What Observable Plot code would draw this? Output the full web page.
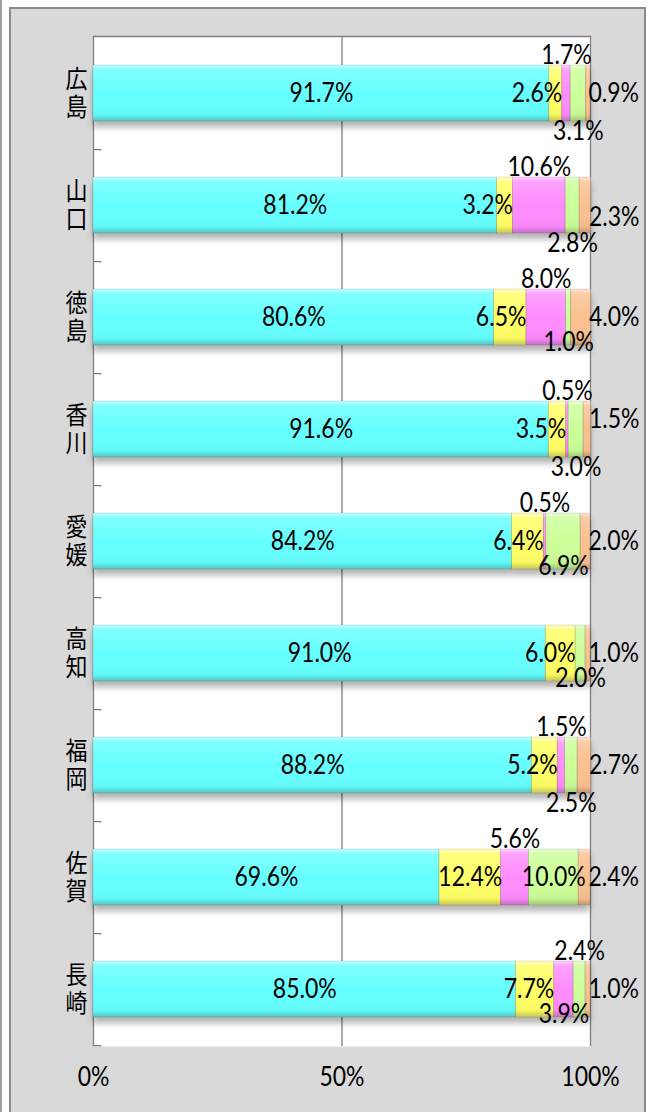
<!DOCTYPE html>
<html><head><meta charset="utf-8">
<script src="https://cdn.jsdelivr.net/npm/d3@7"></script>
<script src="https://cdn.jsdelivr.net/npm/@observablehq/plot@0.6"></script>
<style>
html,body{margin:0;padding:0;background:#fff;width:649px;height:1112px;overflow:hidden;}
#edge{position:absolute;left:0;top:0;width:2px;height:1112px;background:#a0a0a0;}
#panel{position:absolute;left:9px;top:7px;width:637px;height:1140px;background:#d9d9d9;border:2px solid #8a8a8a;box-sizing:border-box;}
#chart{position:absolute;left:0;top:0;}
</style></head><body>
<div id="edge"></div><div id="panel"></div>
<svg width="0" height="0" style="position:absolute"><defs>
<linearGradient id="bevel" x1="0" y1="0" x2="0" y2="1">
 <stop offset="0" stop-color="#fff" stop-opacity="0.6"/>
 <stop offset="0.09" stop-color="#fff" stop-opacity="0.18"/>
 <stop offset="0.5" stop-color="#fff" stop-opacity="0"/>
 <stop offset="0.88" stop-color="#000" stop-opacity="0.03"/>
 <stop offset="1" stop-color="#000" stop-opacity="0.22"/>
</linearGradient>
<filter id="shadow" x="-5%" y="-5%" width="110%" height="115%">
 <feDropShadow dx="0" dy="6" stdDeviation="3" flood-color="#000" flood-opacity="0.3"/>
</filter>
</defs></svg>
<div id="chart"></div>
<script>
const prefectures = ["広島","山口","徳島","香川","愛媛","高知","福岡","佐賀","長崎"];
const seriesKeys = ["s1","s2","s3","s4","s5"];
const seriesColors = ["#66FFFF","#FFFF66","#FF8CFF","#CCFF99","#FAC090"];
const s1 = [91.7,81.2,80.6,91.6,84.2,91.0,88.2,69.6,85.0];
const s2 = [2.6,3.2,6.5,3.5,6.4,6.0,5.2,12.4,7.7];
const s3 = [1.7,10.6,8.0,0.5,0.5,0,1.5,5.6,3.9];
const s4 = [3.1,2.8,1.0,3.0,6.9,2.0,2.5,10.0,2.4];
const s5 = [0.9,2.3,4.0,1.5,2.0,1.0,2.7,2.4,1.0];
// label placement keywords per prefecture, one per series
const labelPlacement = [
  ["c","e","t","b","r"],
  ["c","e","t","b","rd"],
  ["c","e","t","m","r"],
  ["c","e","t","b","ru"],
  ["c","e","t","m","r"],
  ["c","e","-","m","r"],
  ["c","e","t","b","r"],
  ["c","c","t","c","r"],
  ["c","e","m","t","r"]
];
const xTicks = [0,50,100];

const seriesValues = [s1,s2,s3,s4,s5];
const rows = [];
prefectures.forEach((p,i) => seriesKeys.forEach((k,j) => {
  rows.push({pref:p, series:k, value:seriesValues[j][i], place:labelPlacement[i][j]});
}));

const W=649,H=1112,mL=93,mR=59,mT=36,mB=66;
const step = (H-mT-mB)/prefectures.length;
const numFont = "Lato, 'Open Sans', sans-serif";
const lab = p => d => d.place === p ? d.value.toFixed(1)+"%" : null;
const so = {x:"value", y:"pref"};
const fs = 23;

const chart = Plot.plot({
  width: W, height: H, marginLeft: mL, marginRight: mR, marginTop: mT, marginBottom: mB,
  style: {background: "transparent", fontFamily: numFont, color: "#000", overflow: "visible"},
  x: {domain: [0,100], axis: null},
  y: {domain: prefectures, paddingInner: 0.5, paddingOuter: 0.25, axis: null},
  color: {domain: seriesKeys, range: seriesColors},
  marks: [
    Plot.frame({fill: "white", stroke: null}),
    Plot.ruleX(xTicks, {stroke: "#7f7f7f", strokeWidth: 1.3}),
    Plot.frame({anchor: "top", stroke: "#7f7f7f", strokeWidth: 1.3}),
    Plot.ruleY(prefectures, {y: d => d, x1: 0, x2: 1.7, dy: step/2, stroke: "#7f7f7f", strokeWidth: 1.3}),
    Plot.barX(rows, Plot.stackX({...so, fill: "series"})),
    Plot.barX(rows, Plot.stackX({...so, fill: "url(#bevel)", stroke: "rgba(0,0,0,0.13)", strokeWidth: 0.8})),
    Plot.text(rows, Plot.stackX({...so, text: lab("c"), fontSize: fs, fill: "#000"})),
    Plot.text(rows, Plot.stackX({...so, text: lab("t"), dy: -38, fontSize: fs, fill: "#000"})),
    Plot.text(rows, Plot.stackX({...so, text: lab("b"), dy: 38, fontSize: fs, fill: "#000"})),
    Plot.text(rows, Plot.stackX({...so, text: lab("m"), dy: 25, fontSize: fs, fill: "#000"})),
    Plot.text(rows, Plot.stackX2({...so, text: lab("e"), textAnchor: "end", fontSize: fs, fill: "#000"})),
    Plot.text(rows, Plot.stackX2({...so, text: lab("r"), textAnchor: "start", dx: -2, fontSize: fs, fill: "#000"})),
    Plot.text(rows, Plot.stackX2({...so, text: lab("ru"), textAnchor: "start", dx: -2, dy: -10, fontSize: fs, fill: "#000"})),
    Plot.text(rows, Plot.stackX2({...so, text: lab("rd"), textAnchor: "start", dx: -2, dy: 12, fontSize: fs, fill: "#000"})),
    Plot.text(xTicks, {x: d => d, frameAnchor: "bottom", dy: 39, text: d => d + "%", fontSize: fs, fill: "#000"}),
    Plot.text(prefectures, {y: d => d, frameAnchor: "left", dx: -17, textAnchor: "middle",
      text: d => d, fontSize: 22, fill: "#000",
      fontFamily: "'Noto Sans CJK JP', sans-serif"})
  ]
});
document.getElementById("chart").appendChild(chart);

// shadow under the coloured bars
const barGroup = chart.querySelector('g[aria-label="bar"]');
if (barGroup) barGroup.setAttribute("filter", "url(#shadow)");

// prefecture names written vertically (top to bottom), as in the original
const textGroups = chart.querySelectorAll('g[aria-label="text"]');
const prefGroup = textGroups[textGroups.length - 1];
prefGroup.querySelectorAll("text").forEach(t => {
  t.removeAttribute("y");
  t.removeAttribute("dy");
  t.setAttribute("writing-mode", "vertical-rl");
  t.style.writingMode = "vertical-rl";
  t.style.textOrientation = "upright";
  t.style.letterSpacing = "2px";
});

// vertically stretched lettering, as in the original
const sy = 1.16;
const num = v => (v && /^-?[\d.]+$/.test(v)) ? parseFloat(v) : 0;
chart.querySelectorAll("text").forEach(t => {
  const T = t.getAttribute("transform") || "";
  const x = num(t.getAttribute("x")), y = num(t.getAttribute("y"));
  t.setAttribute("transform", `${T} translate(${x},${y}) scale(1,${sy}) translate(${-x},${-y})`);
});
</script>
</body></html>
